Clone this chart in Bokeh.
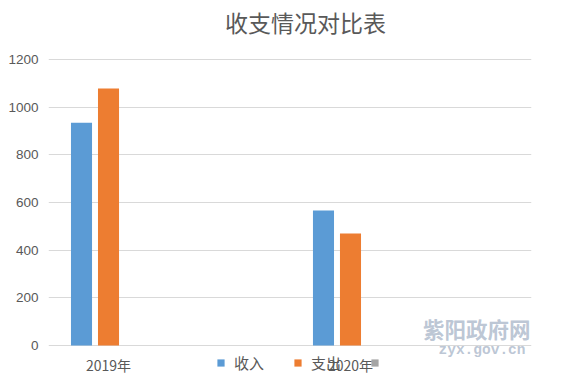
from bokeh.plotting import figure
from bokeh.models import (Range1d, FixedTicker, Legend, LegendItem, ColumnDataSource,
                          Label)
from bokeh.transform import dodge
from bokeh.embed import file_html
from bokeh.resources import INLINE
from bokeh.core.properties import value

title = "收支情况对比表"
categories = ["2019年", "2020年"]
cat_index = [0, 1]
series_names = ["收入", "支出", ""]
income = [935, 566]
expense = [1078, 470]
other = [0, 0]
y_ticks = [0, 200, 400, 600, 800, 1000, 1200]

colors = ["#5B9BD5", "#ED7D31", "#A5A5A5"]
font = "Noto Sans CJK SC"

source = ColumnDataSource(dict(x=cat_index, label=categories, base=[0, 0],
                               income=income, expense=expense, other=other))

p = figure(frame_width=483, frame_height=381,
           x_range=Range1d(-0.248, 1.748), y_range=Range1d(-151, 1447.6),
           output_backend="svg", toolbar_location=None, x_axis_location=None,
           min_border_left=48, min_border_right=39, min_border_top=0, min_border_bottom=0)
p.outline_line_color = None
p.background_fill_color = "white"
p.border_fill_color = "white"

bw = 0.087
off = 0.1116
r1 = p.vbar(x=dodge("x", -off, range=p.x_range), top="income", width=bw, source=source,
            fill_color=colors[0], line_color=None)
r2 = p.vbar(x=dodge("x", 0, range=p.x_range), top="expense", width=bw, source=source,
            fill_color=colors[1], line_color=None)
r3 = p.vbar(x=dodge("x", off, range=p.x_range), top="other", width=bw, source=source,
            fill_color=colors[2], line_color=None)

p.xgrid.visible = False
p.ygrid.ticker = FixedTicker(ticks=y_ticks)
p.ygrid.grid_line_color = "#D9D9D9"
p.ygrid.grid_line_width = 1

p.yaxis.ticker = FixedTicker(ticks=y_ticks)
p.yaxis.axis_line_color = None
p.yaxis.major_tick_line_color = None
p.yaxis.minor_tick_line_color = None
p.yaxis.major_tick_out = 0
p.yaxis.major_tick_in = 0
p.yaxis.major_label_text_font = "Liberation Sans"
p.yaxis.major_label_text_font_size = "13.5px"
p.yaxis.major_label_text_color = "#595959"
p.yaxis.major_label_standoff = 10

# category labels under the baseline
p.text(x="x", y="base", text="label", source=source, text_align="center",
       text_baseline="top", y_offset=9, text_font=value(font),
       text_font_size="14px", text_color="#595959")

legend = Legend(items=[LegendItem(label=series_names[0], renderers=[r1]),
                       LegendItem(label=series_names[1], renderers=[r2]),
                       LegendItem(label=series_names[2], renderers=[r3])],
                orientation="horizontal", location=(168, 8),
                glyph_width=9, glyph_height=9, label_standoff=9,
                label_text_font=font, label_text_font_size="15px",
                label_text_color="#595959", spacing=29, padding=0, margin=0,
                border_line_color=None, background_fill_alpha=0)
p.add_layout(legend, "center")

p.add_layout(Label(x=257, y=360, x_units="screen", y_units="screen", text=title,
                   text_align="center", text_baseline="middle",
                   text_font=font, text_font_size="23px", text_color="#595959"))

wm1 = Label(x=482, y=38, x_units="screen", y_units="screen", text="紫阳政府网",
            text_align="right",
            text_font=font, text_font_style="bold", text_font_size="21.5px",
            text_color="#B4C0D0", text_alpha=0.9)
wm2 = Label(x=390, y=24, x_units="screen", y_units="screen", text="zyx.gov.cn",
            text_font="Liberation Mono", text_font_style="bold", text_font_size="14.5px",
            text_color="#B4C0D0", text_alpha=0.9)
p.add_layout(wm1)
p.add_layout(wm2)

open("out.html", "w").write(file_html(p, INLINE))
